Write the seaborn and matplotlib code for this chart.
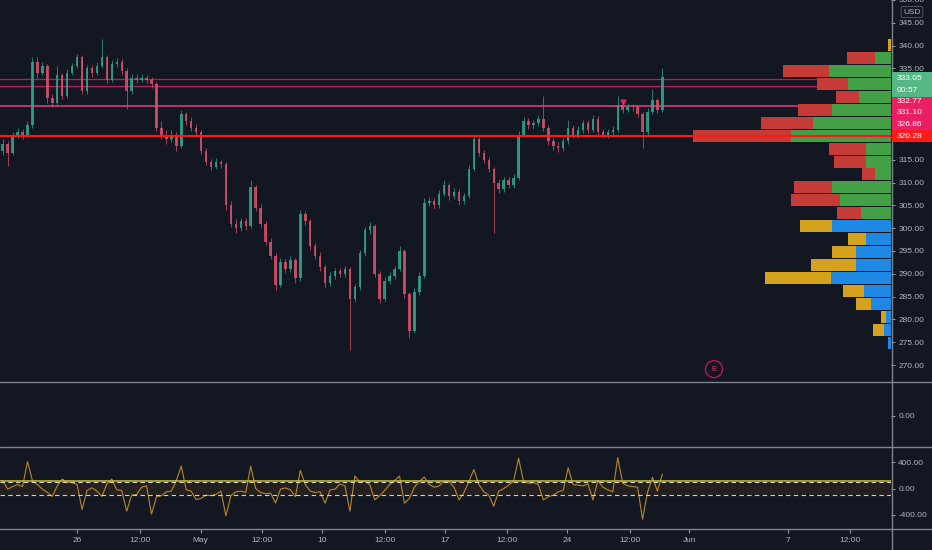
import numpy as np
import pandas as pd
import matplotlib.pyplot as plt
import seaborn as sns
from matplotlib.lines import Line2D
from matplotlib.patches import Rectangle

# --- data --- #
first_open = 317.0
closes = [318.5, 316.5, 320.5, 321.0, 320.5, 322.5, 336.5, 334.0, 335.5, 328.5,
          327.5, 333.5, 329.0, 334.0, 335.5, 337.5, 330.0, 335.0, 334.0, 335.5,
          337.5, 332.5, 336.0, 336.5, 334.5, 330.0, 333.0, 332.5, 333.0, 332.5,
          331.5, 322.0, 320.5, 319.5, 320.5, 318.0, 325.0, 323.5, 322.0, 321.0,
          317.0, 314.5, 313.5, 314.5, 314.0, 305.0, 301.0, 300.0, 301.5, 300.5,
          309.0, 304.5, 301.0, 297.0, 294.0, 287.5, 292.5, 291.0, 293.0, 289.0,
          303.0, 301.5, 296.0, 294.0, 291.5, 288.0, 289.5, 290.5, 290.0, 291.0,
          284.5, 287.0, 294.5, 299.5, 300.5, 290.0, 284.5, 288.5, 289.5, 291.0,
          295.0, 285.5, 277.5, 286.0, 289.5, 305.5, 306.0, 305.0, 307.5, 309.5,
          307.0, 308.0, 306.0, 307.0, 313.0, 319.5, 316.5, 315.0, 313.0, 310.0,
          308.5, 310.5, 309.5, 311.0, 320.5, 323.5, 322.5, 323.0, 324.0, 322.0,
          319.0, 318.0, 317.5, 319.0, 322.0, 320.5, 321.5, 323.0, 321.5, 324.0,
          321.0, 320.5, 321.0, 321.5, 327.0, 326.0, 326.5, 326.5, 325.0, 321.0,
          325.5, 328.0, 326.0, 333.05]
highs = [319.5, 319.0, 321.0, 322.0, 321.8, 323.5, 337.5, 337.6, 336.5, 336.0,
         329.5, 335.6, 334.0, 334.8, 336.2, 338.2, 338.0, 335.8, 335.8, 336.5,
         341.5, 338.0, 336.8, 337.3, 337.0, 335.0, 333.8, 333.8, 333.8, 333.6,
         333.2, 332.0, 323.5, 321.5, 321.5, 321.0, 325.8, 325.5, 324.3, 322.8,
         321.5, 317.5, 315.2, 315.3, 315.0, 314.6, 306.0, 302.0, 302.3, 302.2,
         310.5, 309.5, 305.2, 301.6, 297.8, 294.5, 293.4, 293.2, 293.8, 293.5,
         304.0, 303.8, 302.0, 296.7, 294.8, 292.0, 290.3, 291.3, 291.3, 291.8,
         291.5, 287.8, 295.3, 300.2, 301.3, 301.0, 290.5, 289.3, 290.4, 291.8,
         296.0, 295.5, 286.0, 286.8, 290.3, 306.5, 306.8, 306.7, 308.3, 310.5,
         310.0, 308.8, 308.5, 307.8, 313.8, 320.7, 320.0, 317.2, 315.6, 313.5,
         310.7, 311.3, 311.2, 311.8, 321.3, 324.3, 324.2, 323.8, 324.8, 329.0,
         322.6, 319.7, 318.8, 319.8, 323.6, 322.7, 322.3, 323.8, 323.6, 324.8,
         324.5, 321.7, 321.8, 322.3, 329.0, 327.7, 327.2, 327.3, 327.0, 325.5,
         326.3, 330.6, 328.5, 335.2]
lows = [316.0, 313.7, 316.0, 319.8, 319.5, 320.0, 322.0, 333.0, 333.5, 327.5,
        326.5, 327.0, 328.3, 328.5, 333.5, 335.0, 329.5, 329.5, 333.2, 333.5,
        335.0, 331.7, 332.0, 335.3, 333.5, 326.2, 329.5, 331.8, 332.0, 331.8,
        330.8, 321.2, 319.5, 318.5, 318.8, 317.0, 317.5, 322.5, 321.3, 320.3,
        316.2, 313.8, 312.8, 313.0, 313.2, 304.0, 300.2, 299.0, 299.3, 299.6,
        300.0, 303.7, 300.2, 296.2, 293.2, 286.5, 287.0, 290.2, 290.3, 288.0,
        288.5, 300.7, 295.2, 293.2, 290.7, 287.0, 287.3, 288.8, 289.2, 289.3,
        273.3, 283.8, 286.5, 294.0, 298.8, 289.2, 283.5, 284.0, 287.8, 288.8,
        290.5, 284.7, 276.0, 277.0, 285.3, 289.0, 304.8, 304.2, 304.5, 307.0,
        306.2, 306.3, 305.0, 305.3, 306.5, 312.5, 315.7, 314.2, 312.2, 299.0,
        307.7, 308.0, 308.7, 308.8, 310.5, 320.0, 321.7, 321.8, 322.3, 321.3,
        318.2, 317.2, 316.7, 316.8, 318.5, 319.8, 319.8, 320.8, 320.8, 321.0,
        320.2, 319.8, 319.8, 320.3, 321.0, 325.3, 325.4, 325.7, 324.3, 317.5,
        320.5, 325.0, 325.3, 325.5]
cci = [120, -10, 30, 60, 30, 410, 120, 60, -10, -60,
       -120, 40, 144, 95, 90, 60, -320, -30, 10, -40,
       -120, 70, 144, -20, -30, -344, -100, -90, 20, 40,
       -390, -125, -110, -50, -40, 120, 340, -20, -40, -170,
       -150, -100, -110, -90, -40, -417, -110, -50, -40, -60,
       340, 0, -60, -80, -70, -222, -10, 10, -20, -125,
       275, 60, -40, -60, -50, -222, -20, -10, 70, 40,
       -344, 190, 100, 110, 60, -173, -110, -30, 60, 120,
       190, -222, -150, 20, 110, 175, 60, 20, 40, 110,
       100, 20, -173, -60, 110, 290, 60, -50, -100, -270,
       -40, 0, 50, 110, 460, 110, 80, 90, 60, -173,
       -125, -100, -50, -30, 315, 60, 50, 40, 70, -173,
       120, 20, -20, -50, 470, 80, 40, 30, 20, -466,
       -60, 170, -40, 220]

pink_levels = [332.77, 331.10, 326.86]
red_level = 320.28
last_price = 333.05
countdown = '00:57'

# volume profile rows, top row first
vp_top = 341.53
vp_step = 2.835
vp_up = [0, 16, 62, 43, 32, 59, 78, 100, 25, 25, 16, 59, 51, 30,
         59, 25, 35, 35, 60, 27, 20, 5, 7, 3]
vp_down = [3, 28, 46, 31, 23, 34, 52, 98, 37, 32, 13, 38, 49, 24,
           32, 18, 24, 45, 66, 21, 15, 5, 11, 0]
value_area_rows = list(range(1, 14))

signal_bar = [125]
signal_price = [327.6]
earnings_bar = 143.4
earnings_price = 269.1

price_ticks = [270, 275, 280, 285, 290, 295, 300, 305, 310, 315, 320, 325, 330, 335, 340, 345, 350]
hidden_ticks = [320, 325, 330]  # tapados por las etiquetas de color
tick_pos = [15.0, 27.7, 39.9, 52.3, 64.3, 77.0, 89.1, 101.7, 113.8, 126.4, 138.4, 158.3, 170.9]
tick_lab = ['26', '12:00', 'May', '12:00', '10', '12:00', '17', '12:00', '24', '12:00', 'Jun', '7', '12:00']

# --- estilo --- #
BG = '#131722'
TXT = '#b2b5be'
SEP = '#80838c'
W, H = 932, 550

sns.set_theme(style='dark', rc={'axes.facecolor': BG, 'figure.facecolor': BG})
plt.rcParams['font.family'] = ['Liberation Sans', 'DejaVu Sans']

fig = plt.figure(figsize=(W / 100, H / 100), dpi=100)
ax = fig.add_axes([0, 1 - 381.7 / H, 891.3 / W, 381.7 / H])
ax_mid = fig.add_axes([0, 1 - 446.7 / H, 891.3 / W, 65 / H])
ax_cci = fig.add_axes([0, 1 - 529 / H, 891.3 / W, 82.3 / H])

for a in (ax, ax_mid, ax_cci):
    a.set_facecolor(BG)
    a.grid(False)
    for s in a.spines.values():
        s.set_visible(False)
    a.yaxis.tick_right()
    a.tick_params(axis='y', colors=TXT, labelsize=6, length=3, width=0.6, pad=2)
    a.set_xlim(-0.544, 179.15)
for a in (ax, ax_mid):
    a.tick_params(axis='x', bottom=False, labelbottom=False)

# --- velas --- #
df = pd.DataFrame({'close': closes, 'high': highs, 'low': lows})
df['open'] = [first_open] + closes[:-1]
df['bar'] = np.arange(len(df))
up = df['close'] >= df['open']
colors = np.where(up, '#2fa58f', '#d9506a')
ax.vlines(df['bar'], df['low'], df['high'], colors=colors, linewidth=0.6, alpha=0.85, zorder=2)
body_lo = np.minimum(df['open'], df['close'])
body_h = np.maximum((df['close'] - df['open']).abs(), 0.15)
ax.bar(df['bar'], body_h, bottom=body_lo, width=0.5, color=colors, alpha=0.85, linewidth=0, zorder=3)

for i, lvl in enumerate(pink_levels):
    ax.axhline(lvl, color='#c2185b' if i < 2 else '#e6407f', lw=0.9 if i < 2 else 1.1, zorder=1)
ax.scatter(signal_bar, signal_price, marker='v', s=12, color='#e91e63', zorder=4)
ax.scatter([earnings_bar], [earnings_price], s=150, facecolors='none', edgecolors='#c2185b',
           linewidths=0.9, zorder=4)
ax.text(earnings_bar, earnings_price, 'E', ha='center', va='center', fontsize=5.5, color='#e0406a')

ax.set_ylim(266.34, 350.0)
ax.set_yticks(price_ticks)
ax.set_yticklabels(['' if v in hidden_ticks else f'{v:.2f}' for v in price_ticks])

# --- perfil de volumen --- #
ax_vp = ax.twiny()
ax_vp.set_xlim(891.3, 0)
ax_vp.set_axis_off()
rows = np.arange(len(vp_up))
row_mid = vp_top - (rows + 0.5) * vp_step
in_va = np.isin(rows, value_area_rows)
ax_vp.barh(row_mid, vp_up, height=vp_step * 0.93, left=0,
           color=np.where(in_va, '#43a047', '#1e88e5'), linewidth=0)
ax_vp.barh(row_mid, vp_down, height=vp_step * 0.93, left=vp_up,
           color=np.where(in_va, '#c43b37', '#d4a21d'), linewidth=0)
ax_vp.axhline(red_level, color='#f21c1c', lw=1.5)

# --- panel vacío --- #
ax_mid.set_ylim(-0.95, 1.05)
ax_mid.set_yticks([0])
ax_mid.set_yticklabels(['0.00'])

# --- CCI --- #
ax_cci.axhspan(-100, 100, color='#ff9800', alpha=0.07, lw=0)
sns.lineplot(x=df['bar'], y=cci, ax=ax_cci, color='#b8862a', linewidth=0.8)
ax_cci.axhline(112, color='#c9c23a', lw=1.1)
ax_cci.axhline(100, color='#d0d0d0', lw=0.8, ls=(0, (4, 3)))
ax_cci.axhline(-100, color='#d0d0d0', lw=0.8, ls=(0, (4, 3)))
ax_cci.set_ylim(-616, 636)
ax_cci.set_yticks([-400, 0, 400])
ax_cci.set_yticklabels(['-400.00', '0.00', '400.00'])
ax_cci.set_xlabel('')
ax_cci.set_ylabel('')
ax_cci.set_xticks(tick_pos)
ax_cci.set_xticklabels(tick_lab)
ax_cci.tick_params(axis='x', colors=TXT, labelsize=6, length=3, width=0.6, pad=3, bottom=True)

# --- separadores --- #
for yy in (381.7, 446.7, 529):
    fig.add_artist(Line2D([0, 1], [1 - yy / H] * 2, color=SEP, lw=1, transform=fig.transFigure))
fig.add_artist(Line2D([891.5 / W] * 2, [0, 1], color=SEP, lw=1, transform=fig.transFigure))

# --- etiquetas de precio --- #
boxes = [
    (71.7, 96.7, '#56b886', [(f'{last_price:.2f}', 79), (countdown, 90.5)]),
    (96.7, 107.7, '#e91e63', [(f'{pink_levels[0]:.2f}', 101.5)]),
    (107.7, 119.3, '#e91e63', [(f'{pink_levels[1]:.2f}', 112.8)]),
    (119.3, 130.3, '#e91e63', [(f'{pink_levels[2]:.2f}', 124.3)]),
    (130.3, 141.7, '#ff1a1a', [(f'{red_level:.2f}', 136)]),
]
for top, bot, col, lines in boxes:
    fig.add_artist(Rectangle((892 / W, 1 - bot / H), 40 / W, (bot - top) / H,
                             transform=fig.transFigure, color=col, lw=0, zorder=5))
    for txt, yc in lines:
        fig.text(897 / W, 1 - yc / H, txt, ha='left', va='center', fontsize=6, color='white', zorder=6)

fig.text(912 / W, 1 - 12 / H, 'USD', ha='center', va='center', fontsize=6, color=TXT,
         bbox=dict(boxstyle='round,pad=0.25', fc='none', ec='#5d606b', lw=0.6))

fig.savefig('out.png', dpi=100, facecolor=BG)
